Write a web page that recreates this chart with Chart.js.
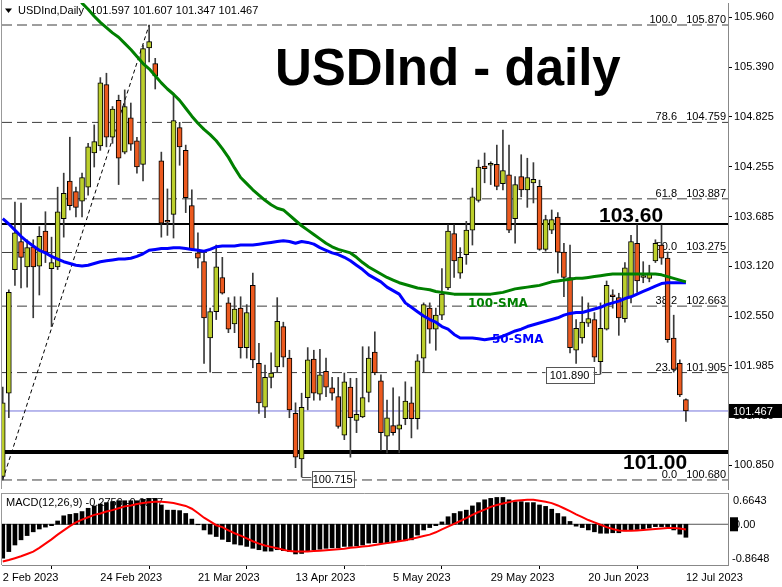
<!DOCTYPE html>
<html>
<head>
<meta charset="utf-8">
<script src="https://cdn.jsdelivr.net/npm/chart.js@4.4.1/dist/chart.umd.min.js"></script>
<style>
  html, body { margin: 0; padding: 0; background: #fff; }
  #wrap { position: relative; width: 782px; height: 587px; overflow: hidden; }
  #main { position: absolute; left: 0; top: 0; }
  #macd { position: absolute; left: 0; top: 490px; }
</style>
</head>
<body>
<div id="wrap">
  <canvas id="main" width="782" height="490"></canvas>
  <canvas id="macd" width="782" height="97"></canvas>
</div>
<script>
// USDInd daily candles (113 bars, 2 Feb - 12 Jul 2023)
const opens = [
  100.72, 101.67, 103.08, 103.40, 103.11, 103.34, 103.12, 103.52, 103.09, 103.11,
  103.66, 104.09, 103.97, 103.86, 104.02, 104.41, 104.49, 105.19, 104.59, 105.01,
  104.42, 104.81, 104.55, 104.28, 105.61, 105.43, 104.32, 103.63, 103.71, 104.70,
  104.44, 103.81, 103.27, 103.17, 102.30, 102.60, 102.99, 102.70, 102.46, 102.64,
  102.19, 102.90, 102.01, 101.51, 101.85, 101.97, 102.43, 102.07, 101.44, 100.92,
  101.62, 102.06, 101.66, 101.92, 101.73, 101.63, 101.19, 101.74, 101.36, 101.40,
  101.68, 102.14, 101.81, 101.18, 101.30, 101.26, 101.38, 101.56, 101.38, 102.07,
  102.64, 102.40, 102.56, 102.87, 103.49, 103.04, 103.25, 103.53, 103.87, 104.26,
  104.27, 104.28, 104.06, 104.16, 103.66, 104.14, 103.99, 104.07, 104.03, 103.31,
  103.53, 103.68, 103.28, 102.99, 102.16, 102.30, 102.47, 102.51, 102.03, 102.40,
  102.78, 102.76, 102.52, 102.77, 103.38, 102.99, 102.98, 103.18, 103.36, 103.21,
  102.30, 102.01, 101.597
];
const highs = [
  101.74, 102.85, 103.85, 103.84, 103.42, 103.42, 103.57, 103.74, 103.45, 104.02,
  104.18, 104.59, 104.02, 104.18, 104.52, 104.73, 105.27, 105.32, 104.94, 105.07,
  105.13, 104.98, 104.59, 105.64, 105.87, 105.49, 104.42, 104.00, 105.09, 104.76,
  104.50, 103.99, 103.50, 103.27, 102.64, 103.36, 103.22, 102.76, 102.77, 102.77,
  102.68, 103.04, 102.24, 101.99, 102.13, 102.76, 102.48, 102.16, 101.56, 101.67,
  102.19, 102.16, 102.17, 102.07, 101.85, 101.85, 101.90, 101.84, 101.84, 102.20,
  102.20, 102.37, 101.88, 101.59, 101.73, 101.63, 101.80, 101.74, 102.11, 102.70,
  102.70, 102.64, 103.09, 103.59, 103.59, 103.33, 103.63, 104.01, 104.33, 104.41,
  104.31, 104.50, 104.67, 104.50, 104.14, 104.39, 104.35, 104.30, 104.10, 103.70,
  103.76, 103.73, 103.38, 103.36, 102.51, 102.77, 102.70, 102.59, 102.70, 102.95,
  102.85, 102.81, 103.16, 103.47, 103.59, 103.17, 103.13, 103.42, 103.59, 103.28,
  102.56, 102.05, 101.607
];
const lows = [
  100.68, 101.39, 102.90, 102.87, 102.88, 102.53, 102.79, 103.16, 102.43, 103.08,
  103.45, 103.76, 103.68, 103.68, 103.93, 104.25, 104.44, 104.48, 104.52, 104.05,
  104.40, 104.44, 104.18, 104.09, 105.45, 105.14, 103.45, 103.47, 103.44, 104.27,
  103.73, 103.30, 103.10, 102.01, 101.91, 102.51, 102.80, 102.36, 102.36, 102.07,
  102.07, 101.96, 101.44, 101.39, 101.73, 101.91, 101.97, 101.39, 100.82, 100.715,
  101.48, 101.59, 101.59, 101.63, 101.59, 101.27, 101.14, 100.94, 101.22, 101.39,
  101.57, 101.88, 101.02, 100.99, 101.19, 100.99, 101.31, 101.16, 101.26, 101.91,
  102.24, 102.16, 102.51, 102.85, 102.99, 102.98, 103.14, 103.36, 103.85, 104.07,
  104.05, 103.99, 103.99, 103.50, 103.38, 103.91, 103.79, 103.84, 103.30, 103.29,
  103.49, 103.04, 102.77, 102.13, 102.01, 102.24, 102.43, 102.03, 101.89, 102.39,
  102.64, 102.33, 102.48, 102.70, 102.82, 102.93, 102.94, 103.16, 103.14, 102.25,
  101.91, 101.63, 101.347
];
const closes = [
  101.56, 102.82, 103.50, 103.22, 103.33, 103.11, 103.46, 103.28, 103.16, 103.74,
  103.95, 103.81, 103.79, 104.13, 104.48, 104.54, 105.21, 104.59, 104.91, 104.35,
  104.94, 104.51, 104.25, 105.60, 105.68, 105.29, 103.61, 103.62, 104.78, 104.48,
  103.90, 103.31, 103.21, 102.53, 102.60, 103.11, 102.81, 102.40, 102.63, 102.19,
  102.59, 102.05, 101.56, 101.85, 101.90, 102.49, 102.08, 101.48, 100.94, 101.51,
  102.05, 101.67, 101.88, 101.74, 101.67, 101.29, 101.80, 101.39, 101.43, 101.62,
  102.07, 101.90, 101.22, 101.39, 101.22, 101.31, 101.58, 101.38, 102.04, 102.68,
  102.40, 102.56, 102.80, 103.52, 103.18, 103.22, 103.53, 103.91, 104.25, 104.23,
  104.28, 104.03, 104.21, 103.53, 104.05, 103.99, 104.13, 104.11, 103.31, 103.65,
  103.65, 103.28, 102.99, 102.19, 102.41, 102.48, 102.52, 102.08, 102.41, 102.90,
  102.77, 102.53, 103.10, 103.40, 102.95, 103.00, 103.04, 103.38, 103.21, 102.28,
  101.94, 101.65, 101.467
];
const sma50 = [
  103.66, 103.60, 103.53, 103.46, 103.40, 103.35, 103.30, 103.27, 103.23, 103.20,
  103.17, 103.15, 103.13, 103.12, 103.13, 103.15, 103.17, 103.18, 103.19, 103.20,
  103.20, 103.21, 103.23, 103.26, 103.30, 103.31, 103.32, 103.32, 103.33, 103.33,
  103.32, 103.31, 103.30, 103.29, 103.31, 103.34, 103.35, 103.35, 103.35, 103.36,
  103.36, 103.36, 103.37, 103.38, 103.39, 103.40, 103.41, 103.40, 103.38, 103.40,
  103.39, 103.37, 103.33, 103.30, 103.27, 103.25, 103.22, 103.18, 103.13, 103.08,
  103.02, 102.98, 102.94, 102.88, 102.84, 102.80, 102.70, 102.65, 102.60, 102.55,
  102.51, 102.48, 102.43, 102.40, 102.34, 102.30, 102.30, 102.30, 102.29, 102.28,
  102.29, 102.30, 102.32, 102.35, 102.38, 102.40, 102.43, 102.45, 102.47, 102.49,
  102.51, 102.53, 102.56, 102.58, 102.59, 102.59, 102.61, 102.63, 102.65, 102.68,
  102.70, 102.72, 102.75, 102.77, 102.80, 102.83, 102.86, 102.89, 102.92, 102.93,
  102.93, 102.93, 102.93
];
// first bars of the 100-SMA are above the visible range
const sma100 = [
  null, null, null, null, null, null, null, null, null, null,
  null, 106.35, 106.27, 106.12, 106.05, 105.97, 105.90, 105.84, 105.78, 105.73,
  105.66, 105.59, 105.51, 105.43, 105.37, 105.29, 105.21, 105.14, 105.08, 105.01,
  104.92, 104.83, 104.75, 104.68, 104.62, 104.55, 104.46, 104.36, 104.24, 104.13,
  104.06, 103.99, 103.93, 103.87, 103.82, 103.78, 103.76, 103.70, 103.64, 103.58,
  103.53, 103.48, 103.43, 103.38, 103.34, 103.31, 103.29, 103.27, 103.22, 103.16,
  103.11, 103.07, 103.03, 102.99, 102.96, 102.93, 102.91, 102.89, 102.87, 102.86,
  102.85, 102.83, 102.82, 102.81, 102.80, 102.80, 102.80, 102.80, 102.80, 102.80,
  102.80, 102.81, 102.82, 102.84, 102.86, 102.87, 102.88, 102.89, 102.90, 102.92,
  102.94, 102.95, 102.96, 102.97, 102.98, 102.98, 102.99, 103.00, 103.01, 103.02,
  103.03, 103.03, 103.03, 103.03, 103.03, 103.03, 103.03, 103.03, 103.02, 103.00,
  102.98, 102.96, 102.94
];
const macdHist = [
  -0.72, -0.58, -0.44, -0.33, -0.24, -0.16, -0.10, -0.06, -0.03, 0.07,
  0.18, 0.21, 0.23, 0.27, 0.34, 0.39, 0.43, 0.46, 0.48, 0.50,
  0.50, 0.50, 0.50, 0.53, 0.55, 0.55, 0.41, 0.30, 0.30, 0.29,
  0.23, 0.11, -0.01, -0.12, -0.21, -0.26, -0.32, -0.37, -0.42, -0.44,
  -0.47, -0.51, -0.54, -0.57, -0.57, -0.54, -0.56, -0.58, -0.63, -0.62,
  -0.56, -0.54, -0.53, -0.51, -0.50, -0.50, -0.47, -0.47, -0.46, -0.44,
  -0.40, -0.39, -0.40, -0.40, -0.37, -0.35, -0.35, -0.33, -0.23, -0.12,
  -0.07, -0.03, 0.05, 0.16, 0.23, 0.27, 0.30, 0.39, 0.46, 0.52,
  0.55, 0.57, 0.57, 0.52, 0.48, 0.48, 0.46, 0.46, 0.41, 0.38,
  0.32, 0.23, 0.16, 0.06, -0.04, -0.07, -0.12, -0.16, -0.19, -0.19,
  -0.18, -0.18, -0.14, -0.12, -0.11, -0.10, -0.08, -0.05, -0.05, -0.05,
  -0.12, -0.21, -0.2759
];
const macdSignal = [
  -0.79, -0.76, -0.72, -0.68, -0.63, -0.58, -0.50, -0.41, -0.32, -0.22,
  -0.13, -0.04, 0.04, 0.10, 0.15, 0.20, 0.23, 0.27, 0.30, 0.34,
  0.38, 0.40, 0.43, 0.45, 0.47, 0.48, 0.48, 0.47, 0.45, 0.42,
  0.39, 0.33, 0.24, 0.14, 0.06, -0.02, -0.06, -0.13, -0.19, -0.24,
  -0.30, -0.36, -0.41, -0.45, -0.48, -0.51, -0.54, -0.57, -0.58, -0.58,
  -0.58, -0.57, -0.56, -0.55, -0.54, -0.53, -0.52, -0.50, -0.49, -0.47,
  -0.46, -0.44, -0.42, -0.40, -0.38, -0.36, -0.34, -0.31, -0.28, -0.25,
  -0.22, -0.17, -0.11, -0.05, 0.01, 0.07, 0.13, 0.20, 0.26, 0.31,
  0.37, 0.41, 0.44, 0.47, 0.50, 0.51, 0.52, 0.52, 0.50, 0.48,
  0.45, 0.40, 0.34, 0.28, 0.21, 0.15, 0.09, 0.04, -0.01, -0.06,
  -0.10, -0.13, -0.14, -0.14, -0.13, -0.12, -0.11, -0.10, -0.09, -0.08,
  -0.08, -0.09, -0.11
];

const fibLevels = [100.0, 78.6, 61.8, 50.0, 38.2, 23.6, 0.0];
const fibPrices = [105.870, 104.759, 103.887, 103.275, 102.663, 101.905, 100.680];
const priceTicks = [105.960, 105.390, 104.825, 104.255, 103.685, 103.120, 102.550, 101.985, 101.415, 100.850];
const dateTickIdx = [0, 16, 32, 48, 64, 80, 96, 112];
const dateLabels = ['2 Feb 2023', '24 Feb 2023', '21 Mar 2023', '13 Apr 2023', '5 May 2023', '29 May 2023', '20 Jun 2023', '12 Jul 2023'];
const lastPrice = 101.467;

const X_MIN = -0.12, X_MAX = 118.9;
const UP = '#bccf2c', DOWN = '#ec5a1f';
const FONT = '"Liberation Sans", Arial, sans-serif';
const font11 = '11px ' + FONT;

Chart.defaults.font.family = FONT;
Chart.defaults.color = '#000';

function txt(ctx, s, x, y, font, color, align, base) {
  ctx.font = font;
  ctx.fillStyle = color;
  ctx.textAlign = align || 'left';
  ctx.textBaseline = base || 'alphabetic';
  ctx.fillText(s, x, y);
}

function hLine(v, color, width, dash) {
  return {
    type: 'line',
    data: [{ x: X_MIN, y: v }, { x: X_MAX, y: v }],
    borderColor: color, borderWidth: width, borderDash: dash || [],
    pointRadius: 0
  };
}

function labelBox(ctx, s, cx, cy, w) {
  ctx.fillStyle = '#fff';
  ctx.fillRect(cx - w / 2, cy - 8, w, 16);
  ctx.strokeStyle = '#555';
  ctx.lineWidth = 1;
  ctx.strokeRect(Math.round(cx - w / 2) + 0.5, Math.round(cy - 8) + 0.5, w, 16);
  txt(ctx, s, cx, cy + 1, font11, '#000', 'center', 'middle');
}

const noPad = s => { s.paddingTop = 0; s.paddingBottom = 0; s.paddingLeft = 0; s.paddingRight = 0; };

const mainDecor = {
  id: 'mainDecor',
  beforeDatasetsDraw(chart) {
    const { ctx, scales: { y } } = chart;
    ctx.save();
    ctx.fillStyle = '#000';
    ctx.beginPath(); ctx.moveTo(5, 8.5); ctx.lineTo(12, 8.5); ctx.lineTo(8.5, 13); ctx.closePath(); ctx.fill();
    txt(ctx, 'USDInd,Daily  101.597 101.607 101.347 101.467', 18, 11, font11, '#000', 'left', 'middle');
    txt(ctx, 'USDInd - daily', 275, 85, 'bold 51px ' + FONT, '#000');
    fibLevels.forEach((lv, k) => {
      const py = y.getPixelForValue(fibPrices[k]);
      txt(ctx, lv.toFixed(1), 677, py - 2, font11, '#000', 'right');
      txt(ctx, fibPrices[k].toFixed(3), 726, py - 2, font11, '#000', 'right');
    });
    txt(ctx, '103.60', 599, y.getPixelForValue(103.60) - 2, 'bold 21px ' + FONT, '#000');
    txt(ctx, '101.00', 623, y.getPixelForValue(101.00) + 17, 'bold 21px ' + FONT, '#000');
    ctx.restore();
  },
  afterDatasetsDraw(chart) {
    const { ctx, scales: { x, y } } = chart;
    ctx.save();
    txt(ctx, '100-SMA', 468, 304, 'bold 12px "DejaVu Sans"', '#008000', 'left', 'middle');
    txt(ctx, '50-SMA', 492, 340, 'bold 12px "DejaVu Sans"', '#0000ff', 'left', 'middle');
    // low markers
    ctx.strokeStyle = '#555';
    ctx.lineWidth = 1;
    let ly = Math.round(y.getPixelForValue(100.715)) + 0.5;
    let lx = x.getPixelForValue(49);
    ctx.beginPath(); ctx.moveTo(lx, ly); ctx.lineTo(lx + 10, ly); ctx.stroke();
    labelBox(ctx, '100.715', lx + 31, ly + 1, 42);
    ly = Math.round(y.getPixelForValue(101.890)) + 0.5;
    lx = x.getPixelForValue(98);
    ctx.beginPath(); ctx.moveTo(lx, ly); ctx.lineTo(lx - 7, ly); ctx.stroke();
    labelBox(ctx, '101.890', lx - 31, ly, 48);
    ctx.restore();
  },
  afterDraw(chart) {
    const { ctx, chartArea: a, scales: { y } } = chart;
    ctx.save();
    ctx.strokeStyle = '#999';
    ctx.lineWidth = 1;
    ctx.beginPath(); ctx.moveTo(1.5, 0); ctx.lineTo(1.5, a.bottom); ctx.stroke();
    const py = y.getPixelForValue(lastPrice);
    ctx.fillStyle = '#000';
    ctx.fillRect(a.right + 1, py - 7, 54, 14);
    txt(ctx, lastPrice.toFixed(3), a.right + 5, py + 1, font11, '#fff', 'left', 'middle');
    ctx.restore();
  }
};

new Chart(document.getElementById('main'), {
  type: 'bar',
  data: {
    datasets: [
      { type: 'line', label: '100-SMA', data: sma100.map((v, i) => ({ x: i, y: v })),
        borderColor: '#008000', borderWidth: 3, pointRadius: 0, borderJoinStyle: 'round' },
      { type: 'line', label: '50-SMA', data: sma50.map((v, i) => ({ x: i, y: v })),
        borderColor: '#0000ff', borderWidth: 3, pointRadius: 0, borderJoinStyle: 'round' },
      { type: 'bar', label: 'body', data: opens.map((o, i) => ({ x: i, y: [o, closes[i]] })),
        backgroundColor: c => (closes[c.dataIndex] >= opens[c.dataIndex] ? UP : DOWN),
        borderColor: '#000', borderWidth: 1, borderSkipped: false,
        barThickness: 5, minBarLength: 2, grouped: false },
      { type: 'bar', label: 'wick', data: lows.map((l, i) => ({ x: i, y: [l, highs[i]] })),
        backgroundColor: '#3a3a3a', barThickness: 1, minBarLength: 1, grouped: false },
      { type: 'line', label: 'fib', data: [{ x: 0, y: fibPrices[6] }, { x: 24, y: fibPrices[0] }],
        borderColor: '#000', borderWidth: 1, borderDash: [4, 3], pointRadius: 0 },
      hLine(lastPrice, '#7373dc', 1),
      hLine(103.60, '#000', 2),
      hLine(101.00, '#000', 4),
      ...fibPrices.map(p => hLine(p, '#3c3c3c', 1, [10, 5]))
    ]
  },
  options: {
    responsive: false,
    animation: false,
    layout: { padding: { left: 2, top: 3, right: 0, bottom: 1 } },
    plugins: { legend: { display: false }, tooltip: { enabled: false } },
    scales: {
      x: { type: 'linear', min: X_MIN, max: X_MAX, offset: false, display: false },
      y: {
        type: 'linear', position: 'right', min: 100.577, max: 106.121,
        afterBuildTicks: s => { s.ticks = priceTicks.map(v => ({ value: v })); },
        afterFit: s => { s.width = 54; noPad(s); },
        grid: { drawOnChartArea: false, drawTicks: true, tickLength: 4, color: '#000' },
        border: { display: true, color: '#888' },
        ticks: { padding: 2, color: '#000', font: { size: 11 }, callback: v => v.toFixed(3) }
      }
    }
  },
  plugins: [mainDecor]
});

const macdDecor = {
  id: 'macdDecor',
  beforeDatasetsDraw(chart) {
    const { ctx } = chart;
    ctx.save();
    txt(ctx, 'MACD(12,26,9) -0.2759 -0.0877', 6, 13, font11, '#000', 'left', 'middle');
    ctx.restore();
  },
  afterDraw(chart) {
    const { ctx, chartArea: a, scales: { y } } = chart;
    ctx.save();
    ctx.strokeStyle = '#999';
    ctx.lineWidth = 1;
    ctx.beginPath(); ctx.moveTo(1.5, a.top + 0.5); ctx.lineTo(a.right, a.top + 0.5); ctx.stroke();
    ctx.beginPath(); ctx.moveTo(1.5, a.top); ctx.lineTo(1.5, a.bottom); ctx.stroke();
    const top = y.getPixelForValue(0.6643), zero = y.getPixelForValue(0), bot = y.getPixelForValue(-0.8648);
    txt(ctx, '0.6643', a.right + 5, top + 8, font11, '#000', 'left', 'middle');
    ctx.fillStyle = '#000';
    ctx.fillRect(a.right + 2, zero - 7, 8, 14);
    txt(ctx, '0.00', a.right + 6, zero + 1, font11, '#000', 'left', 'middle');
    txt(ctx, '-0.8648', a.right + 4, bot - 6, font11, '#000', 'left', 'middle');
    ctx.restore();
  }
};

new Chart(document.getElementById('macd'), {
  type: 'bar',
  data: {
    datasets: [
      { type: 'line', label: 'signal', data: macdSignal.map((v, i) => ({ x: i, y: v })),
        borderColor: '#ff0000', borderWidth: 2, pointRadius: 0 },
      { type: 'bar', label: 'MACD', data: macdHist.map((v, i) => ({ x: i, y: v })),
        backgroundColor: '#000', barThickness: 4, grouped: false },
      { type: 'line', label: 'zero', data: [{ x: X_MIN, y: 0 }, { x: X_MAX, y: 0 }],
        borderColor: '#555', borderWidth: 1, pointRadius: 0 }
    ]
  },
  options: {
    responsive: false,
    animation: false,
    layout: { padding: { left: 2, top: 3, right: 0, bottom: 0 } },
    plugins: { legend: { display: false }, tooltip: { enabled: false } },
    scales: {
      x: {
        type: 'linear', min: X_MIN, max: X_MAX, offset: false, position: 'bottom',
        afterBuildTicks: s => { s.ticks = dateTickIdx.map(v => ({ value: v })); },
        afterFit: s => { s.height = 22; noPad(s); },
        grid: { drawOnChartArea: false, drawTicks: true, tickLength: 4, color: '#000' },
        border: { display: true, color: '#888' },
        ticks: { align: 'start', padding: 2, maxRotation: 0, autoSkip: false, color: '#000',
                 font: { size: 11 }, callback: (v, i) => dateLabels[i] }
      },
      y: {
        type: 'linear', position: 'right', min: -0.8648, max: 0.6643,
        afterFit: s => { s.width = 54; noPad(s); },
        grid: { display: false },
        border: { display: true, color: '#888' },
        ticks: { display: false }
      }
    }
  },
  plugins: [macdDecor]
});
</script>
</body>
</html>
